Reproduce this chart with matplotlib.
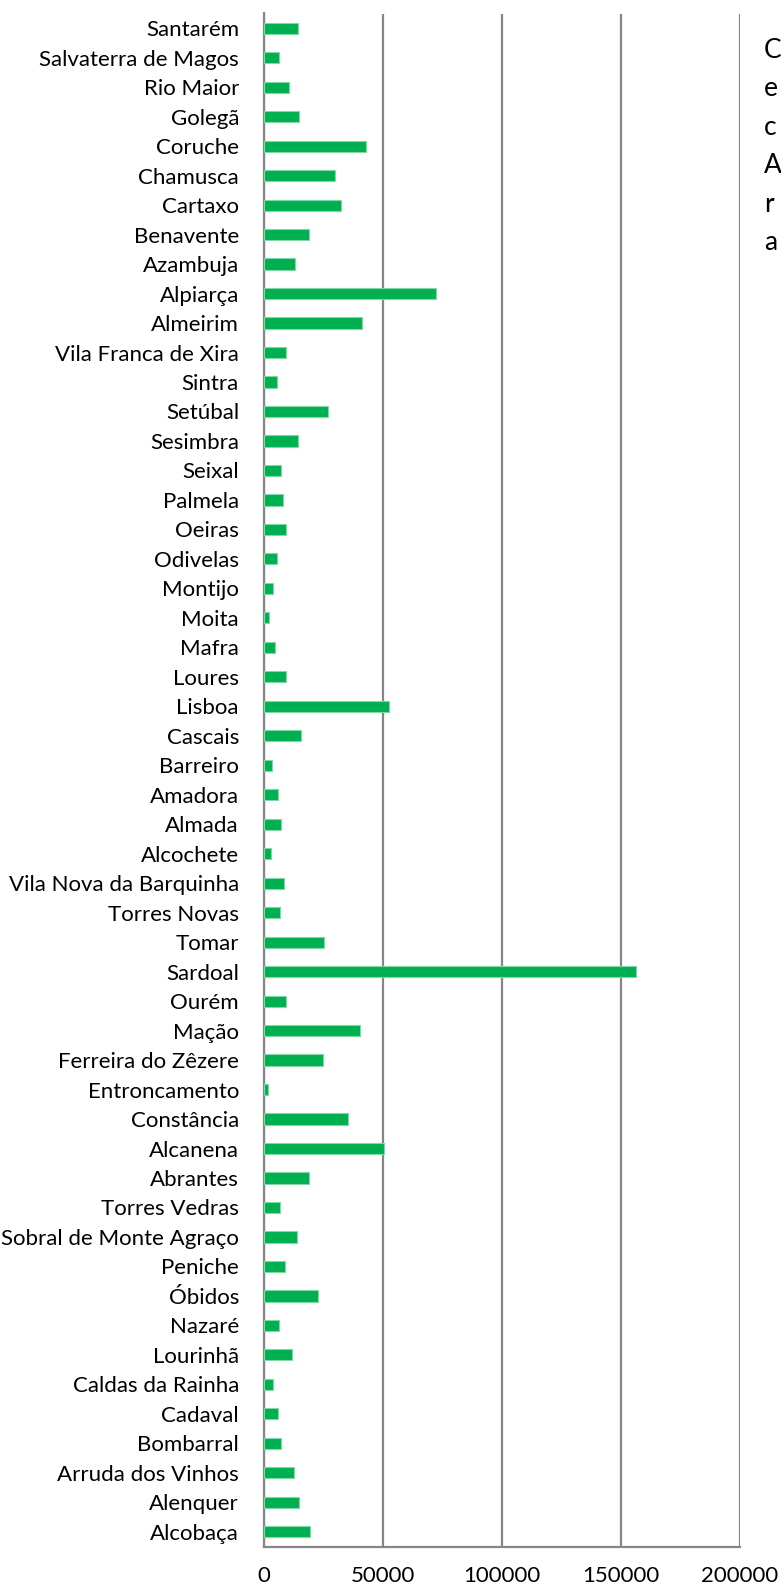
import matplotlib.pyplot as plt
import numpy as np

# === Data (top to bottom as shown) ===
municipios = [
    "Santarém", "Salvaterra de Magos", "Rio Maior", "Golegã", "Coruche",
    "Chamusca", "Cartaxo", "Benavente", "Azambuja", "Alpiarça", "Almeirim",
    "Vila Franca de Xira", "Sintra", "Setúbal", "Sesimbra", "Seixal",
    "Palmela", "Oeiras", "Odivelas", "Montijo", "Moita", "Mafra", "Loures",
    "Lisboa", "Cascais", "Barreiro", "Amadora", "Almada", "Alcochete",
    "Vila Nova da Barquinha", "Torres Novas", "Tomar", "Sardoal", "Ourém",
    "Mação", "Ferreira do Zêzere", "Entroncamento", "Constância", "Alcanena",
    "Abrantes", "Torres Vedras", "Sobral de Monte Agraço", "Peniche",
    "Óbidos", "Nazaré", "Lourinhã", "Caldas da Rainha", "Cadaval",
    "Bombarral", "Arruda dos Vinhos", "Alenquer", "Alcobaça",
]
valores = [
    14200, 6100, 10300, 14600, 42800,
    29900, 32200, 19000, 13100, 72300, 41100,
    9100, 5600, 27100, 14200, 7200,
    8000, 9100, 5500, 3900, 2000, 4600, 9300,
    52500, 15700, 3500, 5800, 7200, 2800,
    8400, 6900, 25400, 156300, 9400,
    40300, 24700, 1500, 35200, 50400,
    19000, 6600, 13800, 8700,
    22600, 6200, 11700, 3900, 5900,
    7200, 12600, 14700, 19500,
]
x_ticks = [0, 50000, 100000, 150000, 200000]

# texto lateral (só as primeiras letras são visíveis)
side_text = ["C", "e", "c", "A", "r", "a"]

plt.rcParams['font.family'] = ['Lato', 'DejaVu Sans']

fig = plt.figure(figsize=(7.81, 15.85), dpi=100)
ax = fig.add_axes([264 / 781, 38.5 / 1585, 476 / 781, 1533 / 1585])

y = np.arange(len(municipios))
ax.barh(y, valores, height=0.38, color="#00B050", edgecolor="#7FD8A6", linewidth=0.8, zorder=3)

ax.set_ylim(len(municipios) - 0.5, -0.5)
ax.set_yticks(y)
ax.set_yticklabels(municipios, fontsize=16, color="#000000")
ax.set_xlim(0, 200000)
ax.set_xticks(x_ticks)
ax.set_xticklabels([str(t) for t in x_ticks], fontsize=16)

ax.tick_params(axis="y", length=0, pad=18)
ax.tick_params(axis="x", length=0, pad=14)

ax.grid(axis="x", color="#868686", linewidth=1.6, zorder=0)
ax.set_axisbelow(True)
for side in ["top", "right"]:
    ax.spines[side].set_visible(False)
ax.spines["left"].set_color("#868686")
ax.spines["left"].set_linewidth(1.6)
ax.spines["bottom"].set_color("#868686")
ax.spines["bottom"].set_linewidth(1.6)

# text box at the right edge
for i, s in enumerate(side_text):
    fig.text(764 / 781, 1 - (50 + i * 38.6) / 1585, s, fontsize=19,
             ha="left", va="center", color="#000000")

fig.savefig("out.png", dpi=100)
